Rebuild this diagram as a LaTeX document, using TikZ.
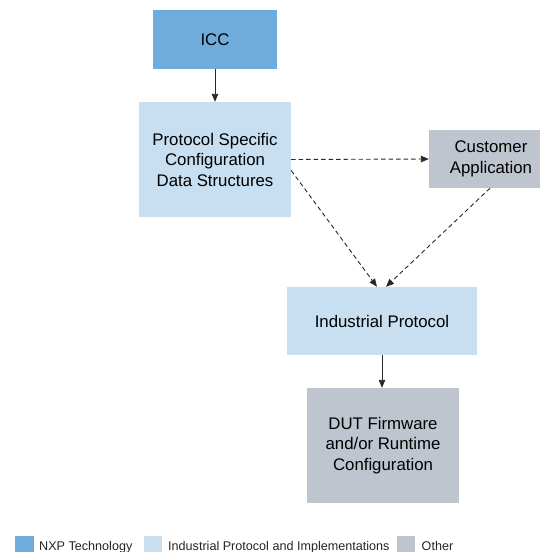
\documentclass[tikz,border=0pt]{standalone}
\usepackage{fontspec}
\setmainfont{Liberation Sans}
\usetikzlibrary{arrows.meta}
\definecolor{nxpblue}{RGB}{111,172,220}
\definecolor{protoblue}{RGB}{200,223,241}
\definecolor{othergrey}{RGB}{190,197,206}
\definecolor{linegrey}{RGB}{40,40,40}
\tikzset{
  block/.style={draw=none, align=center, inner sep=0pt, font=\fontsize{16.8}{20.5}\selectfont},
  link/.style={draw=linegrey, line width=0.9pt, -{Triangle[length=8pt,width=6.5pt]}},
  dashlink/.style={link, dash pattern=on 4.5pt off 3pt},
  legbox/.style={minimum width=18.5pt, minimum height=18pt, inner sep=0pt, anchor=north west},
  legtext/.style={anchor=base west, inner sep=0pt, font=\fontsize{12.6}{14}\selectfont, text=black!85}
}
\begin{document}
\begin{tikzpicture}[x=1pt,y=-1pt]
\useasboundingbox (0,0) rectangle (539,552);
\node[block, fill=nxpblue, minimum width=124pt, minimum height=59pt] (icc) at (215,39.5) {ICC};
\node[block, fill=protoblue, minimum width=152pt, minimum height=115pt] (pscds) at (215,159.5) {Protocol Specific\\Configuration\\Data Structures};
\node[block, fill=othergrey, minimum width=124pt, minimum height=58pt] (custapp) at (491,159) {Customer\\Application};
\node[block, fill=protoblue, minimum width=190pt, minimum height=68pt] (indprot) at (382,321) {Industrial Protocol};
\node[block, fill=othergrey, minimum width=152pt, minimum height=115pt] (dutfw) at (383,445.5) {DUT Firmware\\and/or Runtime\\Configuration};
\draw[link] (icc.south) -- (pscds.north);
\draw[dashlink] (pscds.east) -- (custapp.west);
\draw[dashlink] ([yshift=-11pt]pscds.east) -- ([xshift=-5pt]indprot.north);
\draw[dashlink] ([xshift=-1pt]custapp.south) -- ([xshift=4pt]indprot.north);
\draw[link] (indprot.south) -- (indprot.south |- dutfw.north);
\node[legbox, fill=nxpblue] (legnxp) at (15,536) {};
\node[legtext] (txtnxp) at (39,550) {NXP Technology};
\node[legbox, fill=protoblue] (legproto) at (143.5,536) {};
\node[legtext] (txtproto) at (168,550) {Industrial Protocol and Implementations};
\node[legbox, fill=othergrey] (legother) at (396.5,536) {};
\node[legtext] (txtother) at (421.5,550) {Other};
\end{tikzpicture}
\end{document}
